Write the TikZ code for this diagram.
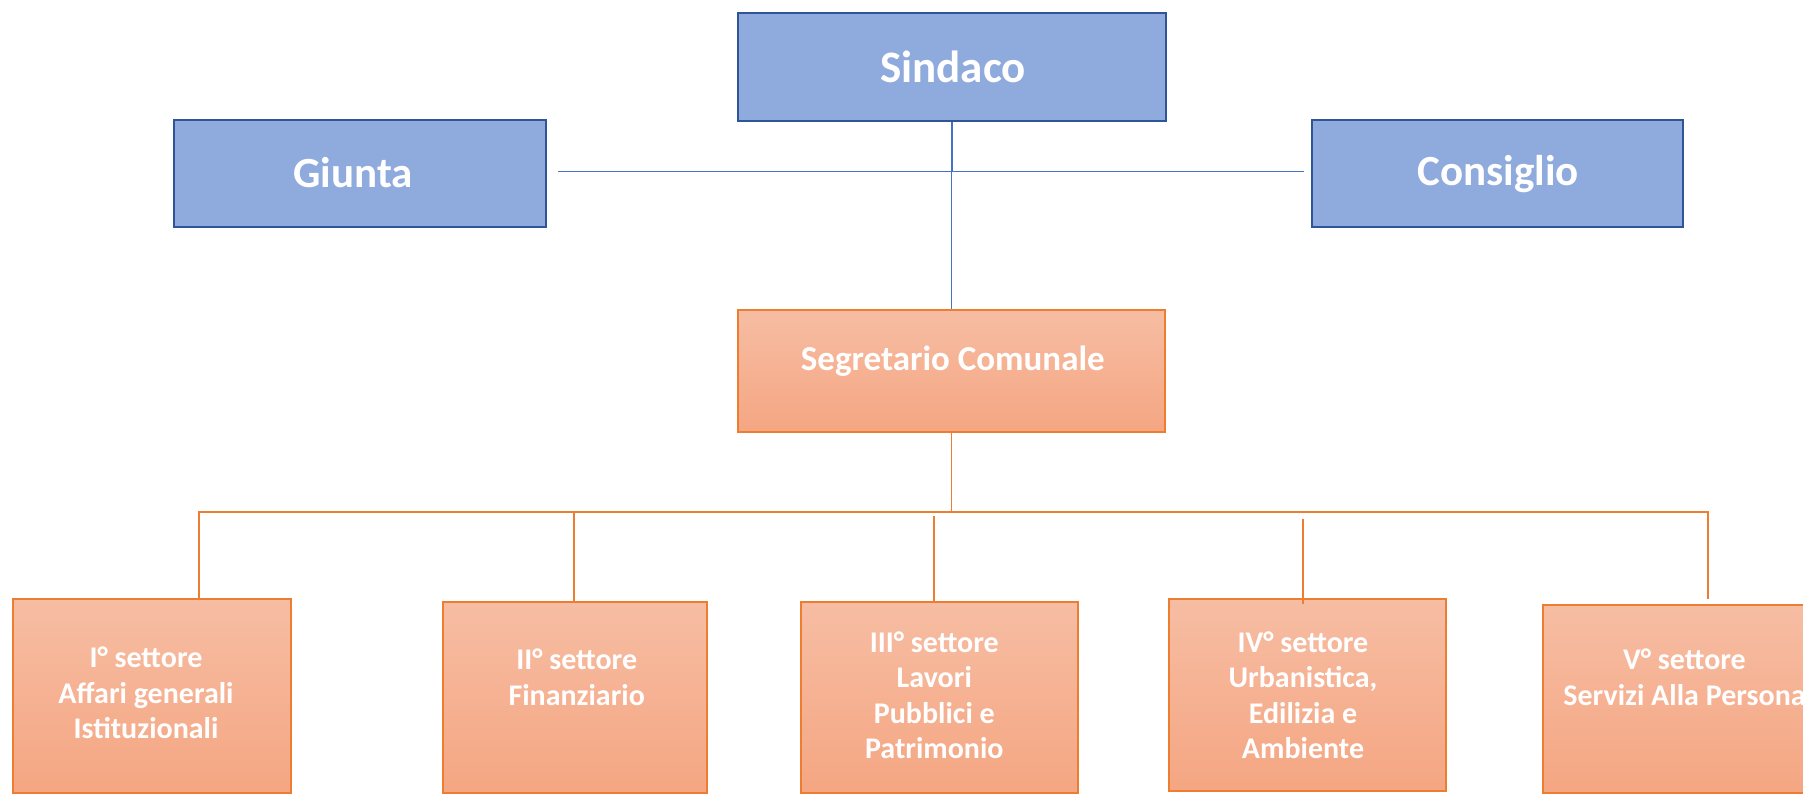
\documentclass[tikz,border=0pt]{standalone}
\usepackage{fontspec}
\setmainfont{Carlito}
\definecolor{bfill}{HTML}{8FAADC}
\definecolor{bdraw}{HTML}{2F5597}
\definecolor{bline}{HTML}{4472C4}
\definecolor{ofilltop}{HTML}{F6BDA3}
\definecolor{ofillbot}{HTML}{F5A682}
\definecolor{odraw}{HTML}{ED7D31}
\begin{document}
\begin{tikzpicture}[x=1pt,y=-1pt,
  bluebox/.style={draw=bdraw, line width=2.8pt, fill=bfill, rectangle, inner sep=0pt},
  orangebox/.style={draw=odraw, line width=1.6pt, top color=ofilltop, bottom color=ofillbot, rectangle, inner sep=0pt},
  wtxt/.style={text=white, inner sep=0pt, align=center},
  sindtxt/.style={wtxt, font=\bfseries\fontsize{45}{54}\selectfont},
  bigtxt/.style={wtxt, font=\bfseries\fontsize{43}{52}\selectfont},
  midtxt/.style={wtxt, font=\bfseries\fontsize{35}{42}\selectfont},
  smalltxt/.style={wtxt, font=\bfseries\fontsize{30}{35.5}\selectfont},
  bconn/.style={draw=bline, line width=1.5pt},
  oconn/.style={draw=odraw, line width=1.9pt}]
\useasboundingbox (0,0) rectangle (1803,794);
\fill[white] (0,0) rectangle (1803,794);

% boxes
\node[bluebox, minimum width=428pt, minimum height=108pt] (sindaco) at (952,67) {};
\node[bluebox, minimum width=372pt, minimum height=107pt] (giunta) at (360,173.5) {};
\node[bluebox, minimum width=371pt, minimum height=107pt] (consiglio) at (1497.5,173.5) {};
\node[orangebox, minimum width=427pt, minimum height=122pt] (segr) at (951.5,371) {};
\node[orangebox, minimum width=278pt, minimum height=194pt] (s1) at (152,696) {};
\node[orangebox, minimum width=264pt, minimum height=191pt] (s2) at (575,697.5) {};
\node[orangebox, minimum width=277pt, minimum height=191pt] (s3) at (939.5,697.5) {};
\node[orangebox, minimum width=277pt, minimum height=192pt] (s4) at (1307.5,695) {};
\node[orangebox, minimum width=279pt, minimum height=188pt] (s5) at (1682.5,699) {};

% texts
\node[sindtxt, anchor=base] (tsindaco) at (953,83) {Sindaco};
\node[bigtxt, anchor=base] (tgiunta) at (353,187.3) {Giunta};
\node[bigtxt, anchor=base] (tconsiglio) at (1498,186) {Consiglio};
\node[midtxt, anchor=base] (tsegr) at (952.8,370) {Segretario Comunale};
\node[smalltxt, anchor=north] (ts1) at (146,647) {I° settore\\Affari generali\\Istituzionali};
\node[smalltxt, anchor=north] (ts2) at (576.7,649) {II° settore\\Finanziario};
\node[smalltxt, anchor=north] (ts3) at (934.3,631.5) {III° settore\\Lavori\\Pubblici e\\Patrimonio};
\node[smalltxt, anchor=north] (ts4) at (1303,631.5) {IV° settore\\Urbanistica,\\Edilizia e\\Ambiente};
\node[smalltxt, anchor=north] (ts5) at (1684.5,649) {V° settore\\Servizi Alla Persona};

% blue connectors
\coordinate (bl) at (558,171.7);
\coordinate (br) at (1304,171.7);
\draw[bconn] (bl) -- (br);
\draw[bconn] (sindaco.south) -- (sindaco.south |- bl);
\draw[bconn] (segr.north |- bl) -- (segr.north);

% orange connectors
\coordinate (hl) at (199,512);
\coordinate (hr) at (1708,512);
\coordinate (e5) at (1708,599);
\coordinate (j2) at (574,512);
\coordinate (j3) at (934,516);
\coordinate (j4) at (1303,519);
\coordinate (e4) at (1303,604);
\draw[oconn] (segr.south) -- (segr.south |- hl);
\draw[oconn] (s1.north -| hl) -- (hl) -- (hr) -- (e5);
\draw[oconn] (j2) -- (j2 |- s2.north);
\draw[oconn] (j3) -- (j3 |- s3.north);
\draw[oconn] (j4) -- (e4);
\end{tikzpicture}
\end{document}
